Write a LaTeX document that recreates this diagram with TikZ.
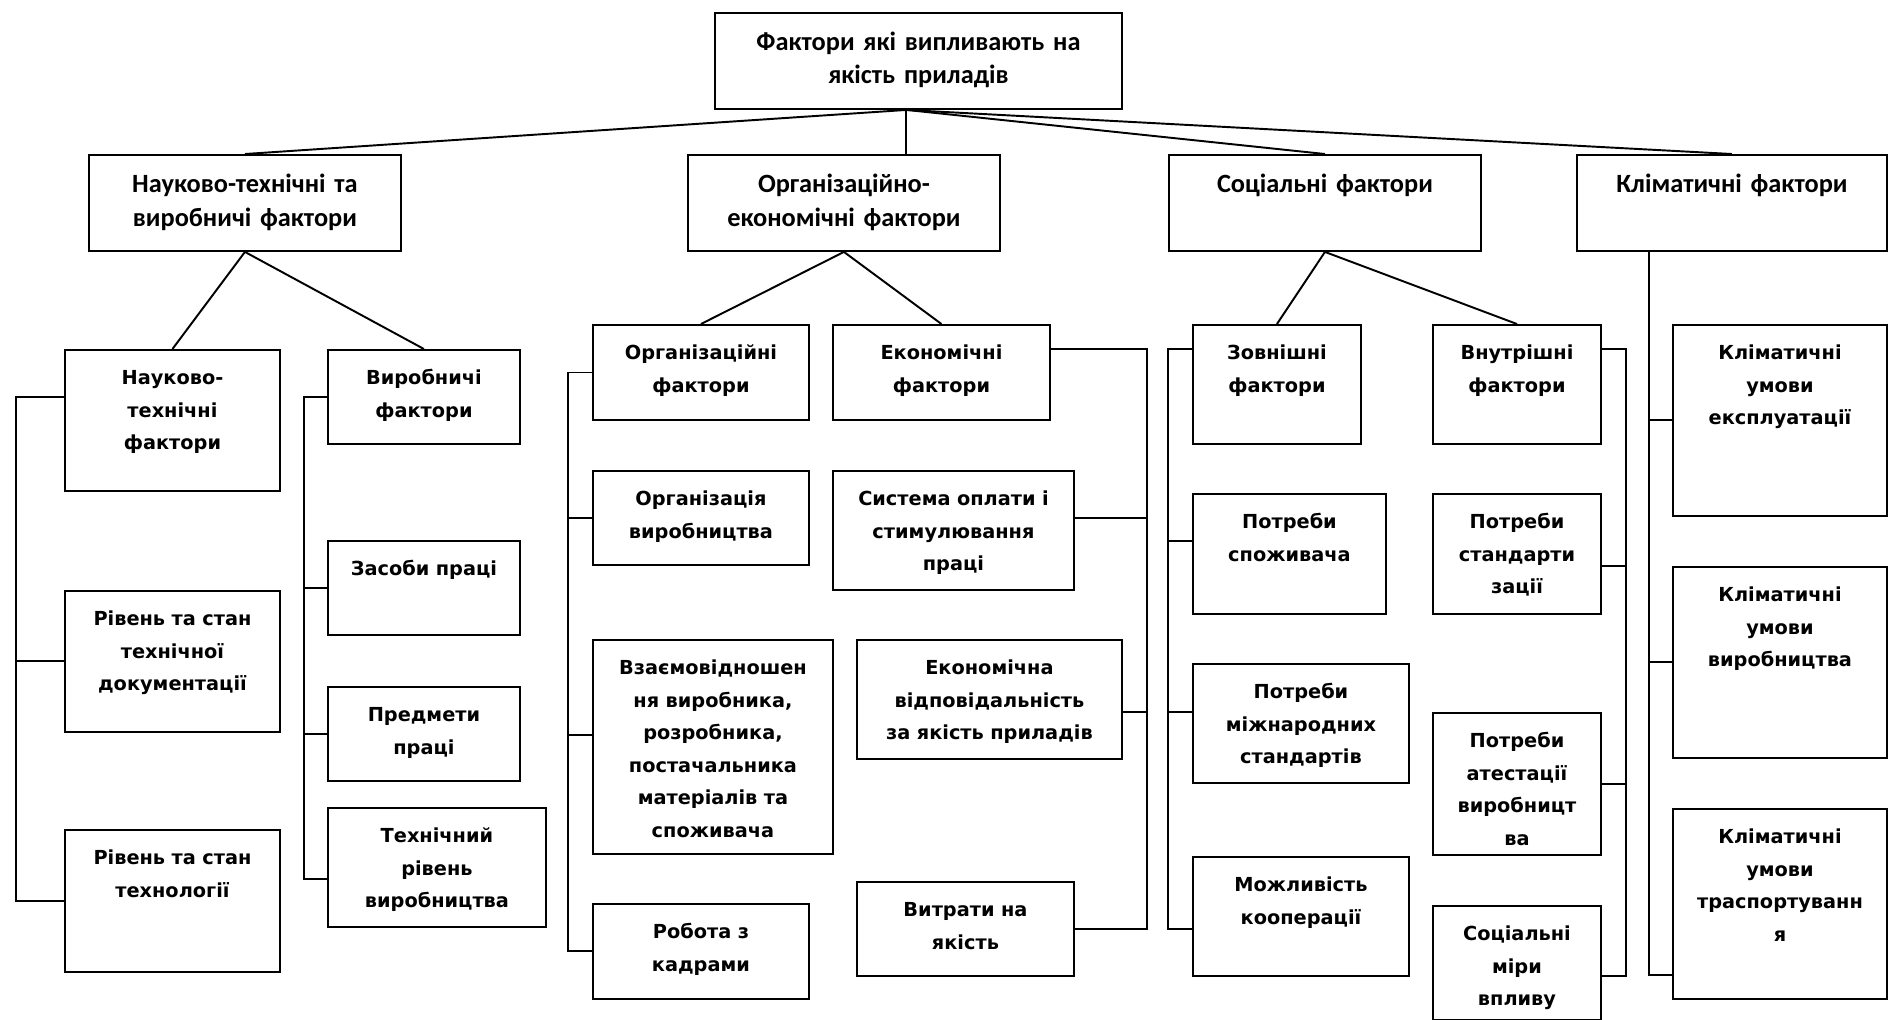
\documentclass[tikz,border=0pt]{standalone}
\usepackage{fontspec}
\usepackage{tikz}
\usetikzlibrary{positioning}
\newfontfamily\headfont{Carlito}
\newfontfamily\cellfont{DejaVu Sans}

\begin{document}
\begin{tikzpicture}[
    x=0.02cm, y=-0.02cm,
    line width=1.1pt,
    head/.style={rectangle, draw, anchor=north west, align=center, inner sep=0pt, text width=6.24cm, text height=0.76cm, text depth=1.16cm, font=\headfont\bfseries\fontsize{15}{18.8}\selectfont},
    cell/.style 2 args={rectangle, draw, anchor=north west, align=center, inner sep=0pt, text width=#1, text height=0.7cm, text depth=#2, font=\cellfont\bfseries\fontsize{11}{18.5}\selectfont}
]
\useasboundingbox (0,0) rectangle (1888,1019);

\node[head, text width=8.14cm] (top) at (714,12) {Фактори які випливають на\\якість приладів};
\node[head] (sci) at (88,154) {Науково-технічні та\\виробничі фактори};
\node[head] (org) at (687,154) {Організаційно-\\економічні фактори};
\node[head] (soc) at (1168,154) {Соціальні фактори};
\node[head, text width=6.2cm] (clim) at (1576,154) {Кліматичні фактори};

\node[cell={4.3cm}{2.12cm}] (nt1) at (64,349) {Науково-\\технічні\\фактори};
\node[cell={4.3cm}{2.12cm}, below=1.96cm of nt1.south west, anchor=north west] (nt2) {Рівень та стан\\технічної\\документації};
\node[cell={4.3cm}{2.14cm}, below=1.92cm of nt2.south west, anchor=north west] (nt3) {Рівень та стан\\технології};

\node[cell={3.84cm}{1.18cm}] (v1) at (327,349) {Виробничі\\фактори};
\node[cell={3.84cm}{1.18cm}, below=1.9cm of v1.south west, anchor=north west] (v2) {Засоби праці};
\node[cell={3.84cm}{1.18cm}, below=1cm of v2.south west, anchor=north west] (v3) {Предмети\\праці};
\node[cell={4.36cm}{1.68cm}, below=0.5cm of v3.south west, anchor=north west] (v4) {Технічний\\рівень\\виробництва};

\node[cell={4.32cm}{1.2cm}] (o1) at (592,324) {Організаційні\\фактори};
\node[cell={4.32cm}{1.18cm}, below=0.98cm of o1.south west, anchor=north west] (o2) {Організація\\виробництва};
\node[cell={4.8cm}{3.58cm}, below=1.46cm of o2.south west, anchor=north west] (o3) {Взаємовідношен\\ня виробника,\\розробника,\\постачальника\\матеріалів та\\споживача};
\node[cell={4.32cm}{1.2cm}, below=0.96cm of o3.south west, anchor=north west] (o4) {Робота з\\кадрами};

\node[cell={4.34cm}{1.2cm}] (e1) at (832,324) {Економічні\\фактори};
\node[cell={4.82cm}{1.68cm}, below=0.98cm of e1.south west, anchor=north west] (e2) {Система оплати і\\стимулювання\\праці};
\node[cell={5.3cm}{1.68cm}, below=0.96cm of e2.south west, anchor=north west, xshift=0.48cm] (e3) {Економічна\\відповідальність\\за якість приладів};
\node[cell={4.34cm}{1.18cm}, below=2.42cm of e3.south west, anchor=north west] (e4) {Витрати на\\якість};

\node[cell={3.36cm}{1.68cm}] (z1) at (1192,324) {Зовнішні\\фактори};
\node[cell={3.86cm}{1.7cm}, below=0.96cm of z1.south west, anchor=north west] (z2) {Потреби\\споживача};
\node[cell={4.32cm}{1.68cm}, below=0.96cm of z2.south west, anchor=north west] (z3) {Потреби\\міжнародних\\стандартів};
\node[cell={4.32cm}{1.68cm}, below=1.44cm of z3.south west, anchor=north west] (z4) {Можливість\\кооперації};

\node[cell={3.36cm}{1.68cm}] (w1) at (1432,324) {Внутрішні\\фактори};
\node[cell={3.36cm}{1.7cm}, below=0.96cm of w1.south west, anchor=north west] (w2) {Потреби\\стандарти\\зації};
\node[cell={3.36cm}{2.14cm}, below=1.94cm of w2.south west, anchor=north west] (w3) {Потреби\\атестації\\виробницт\\ва};
\node[cell={3.36cm}{1.58cm}, below=0.98cm of w3.south west, anchor=north west] (w4) {Соціальні\\міри\\впливу};

\node[cell={4.28cm}{3.12cm}] (k1) at (1672,324) {Кліматичні\\умови\\експлуатації};
\node[cell={4.28cm}{3.12cm}, below=0.98cm of k1.south west, anchor=north west] (k2) {Кліматичні\\умови\\виробництва};
\node[cell={4.28cm}{3.1cm}, below=0.98cm of k2.south west, anchor=north west] (k3) {Кліматичні\\умови\\траспортуванн\\я};

\coordinate (rt) at ([xshift=-0.24cm]top.south);
\draw (rt) -- (sci.north);
\draw (rt) -- (rt |- org.north);
\draw (rt) -- (soc.north);
\draw (rt) -- (clim.north);

\draw (nt1.north) -- (sci.south) -- (v1.north);
\draw (o1.north) -- (org.south) -- (e1.north);
\draw (z1.north) -- (soc.south) -- (w1.north);

% side rails
\draw ([yshift=-0.96cm]nt1.north west) -- ++(-0.96cm,0) |- (nt3.west);
\draw (nt2.west) -- ++(-0.96cm,0);

\draw (v1.west) -- ++(-0.46cm,0) |- ([yshift=-1.44cm]v4.north west);
\draw (v2.west) -- ++(-0.46cm,0);
\draw (v3.west) -- ++(-0.46cm,0);

\draw (o1.west) -- ++(-0.48cm,0) |- (o4.west);
\draw (o2.west) -- ++(-0.48cm,0);
\draw ([yshift=-1.92cm]o3.north west) -- ++(-0.48cm,0);

\draw ([yshift=-0.5cm]e1.north east) -- ++(1.92cm,0) |- (e4.east);
\draw ([yshift=-0.96cm]e2.north east) -- ++(1.44cm,0);
\draw ([yshift=-1.46cm]e3.north east) -- ++(0.48cm,0);

\draw ([yshift=-0.5cm]z1.north west) -- ++(-0.48cm,0) |- ([yshift=-1.46cm]z4.north west);
\draw ([yshift=-0.96cm]z2.north west) -- ++(-0.48cm,0);
\draw ([yshift=-0.98cm]z3.north west) -- ++(-0.48cm,0);

\draw ([yshift=-0.5cm]w1.north east) -- ++(0.48cm,0) |- ([yshift=-1.42cm]w4.north east);
\draw ([yshift=-1.46cm]w2.north east) -- ++(0.48cm,0);
\draw (w3.east) -- ++(0.48cm,0);

\draw ([yshift=-3.34cm]k3.north west) -- ++(-0.46cm,0) coordinate (s7) -- (s7 |- clim.south);
\draw (k1.west) -- ++(-0.46cm,0);
\draw (k2.west) -- ++(-0.46cm,0);
\end{tikzpicture}
\end{document}
